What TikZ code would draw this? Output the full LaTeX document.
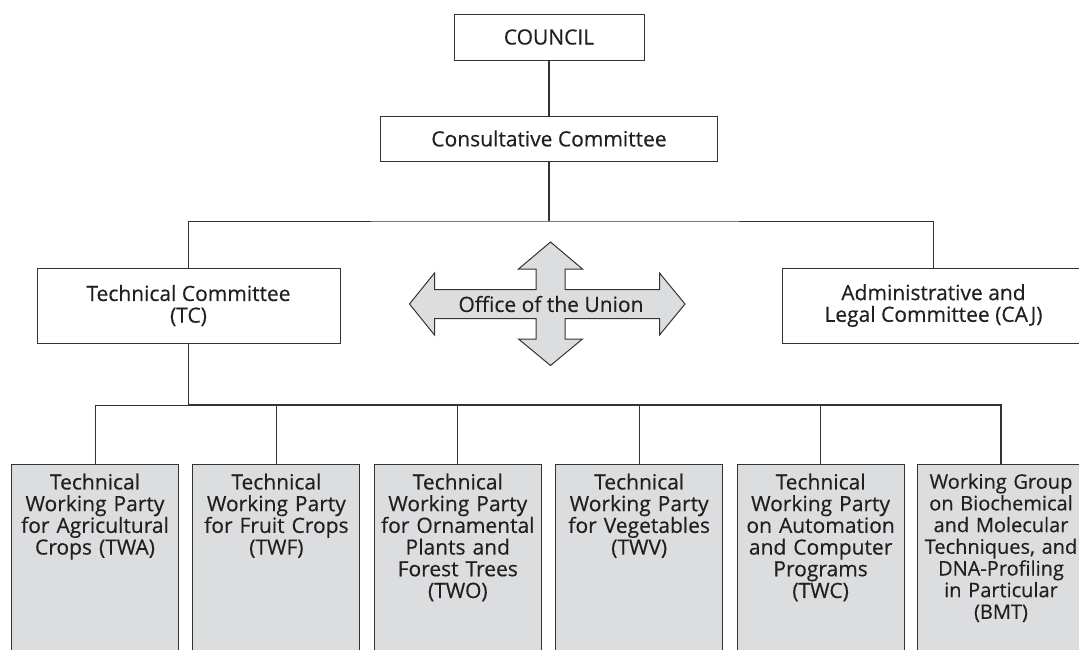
\documentclass[tikz,border=0pt]{standalone}
\usepackage{fontspec}
\setmainfont{Open Sans}[FakeBold=0.4]
\definecolor{color1}{RGB}{51,51,51}
\definecolor{color2}{RGB}{220,221,223}
\definecolor{color3}{RGB}{35,31,32}
\tikzset{
  unitnode/.style = {align=center, inner sep=0pt, text centered,
    font=\fontsize{21}{21.7}\selectfont, text=color3},
  topbox/.style = {unitnode, rectangle, draw=color1, fill=white},
  partybox/.style = {unitnode, rectangle, draw=color1, fill=color2, anchor=north,
    text width=167pt, inner ysep=9pt, text depth=240pt},
}

\begin{document}
\begin{tikzpicture}[x=1pt,y=-1pt,line width=1pt,draw=color1]
\useasboundingbox (0,0) rectangle (1079,649);
\clip (0,0) rectangle (1079,649);

\node [topbox, minimum width=190pt, minimum height=46pt] (council) at (549,37) {COUNCIL};
\node [topbox, minimum width=337pt, minimum height=45pt] (consult) at (549,138.5) {Consultative Committee};
\node [topbox, minimum width=303pt, minimum height=75pt] (tc) at (188.5,305.5) {Technical Committee\\(TC)};
\node [topbox, minimum width=303pt, minimum height=75pt] (caj) at (933.5,305.5) {Administrative and\\Legal Committee (CAJ)};

\node [partybox] (twa) at (95,464) {Technical\\Working Party\\for Agricultural\\Crops (TWA)};
\node [partybox] (twf) at (276.4,464) {Technical\\Working Party\\for Fruit Crops\\(TWF)};
\node [partybox] (two) at (457.8,464) {Technical\\Working Party\\for Ornamental\\Plants and\\Forest Trees\\(TWO)};
\node [partybox] (twv) at (639.2,464) {Technical\\Working Party\\for Vegetables\\(TWV)};
\node [partybox] (twc) at (820.6,464) {Technical\\Working Party\\on Automation\\and Computer\\Programs\\(TWC)};
\node [partybox, font=\fontsize{20}{21.7}\selectfont] (bmt) at (1001,464) {Working Group\\on Biochemical\\and Molecular\\Techniques, and\\DNA-Profiling\\in Particular\\(BMT)};

\coordinate (upbus) at (549,221);
\coordinate (lowbus) at (188.5,405);
\draw [line width=1.3pt] (council) -- (consult);
\draw [line width=1.3pt] (consult) -- (upbus);
\draw (tc.north) |- (upbus) -| (caj.north);
\draw [line width=1.6pt] (tc) -- (lowbus);
\draw (twa.north) |- (lowbus);
\draw [line width=1.3pt] (lowbus) -| (bmt.north);
\draw (twf.north) -- (twf.north |- lowbus);
\draw (two.north) -- (two.north |- lowbus);
\draw (twv.north) -- (twv.north |- lowbus);
\draw (twc.north) -- (twc.north |- lowbus);

\coordinate (office) at (550.5,304);
\draw [fill=color2, shift={(office)}] (-141,0) -- (-116,-31) -- (-116,-14.5) -- (-14.5,-14.5)
  -- (-14.5,-35) -- (-32,-35) -- (0,-62) -- (32,-35) -- (14.5,-35) -- (14.5,-14.5)
  -- (109,-14.5) -- (109,-31) -- (134.5,0) -- (109,31) -- (109,14.5) -- (14.5,14.5)
  -- (14.5,35) -- (32,35) -- (0,61.5) -- (-32,35) -- (-14.5,35) -- (-14.5,14.5)
  -- (-116,14.5) -- (-116,31) -- cycle;
\node [unitnode] (officetext) at (551,304) {Office of the Union};
\end{tikzpicture}
\end{document}
